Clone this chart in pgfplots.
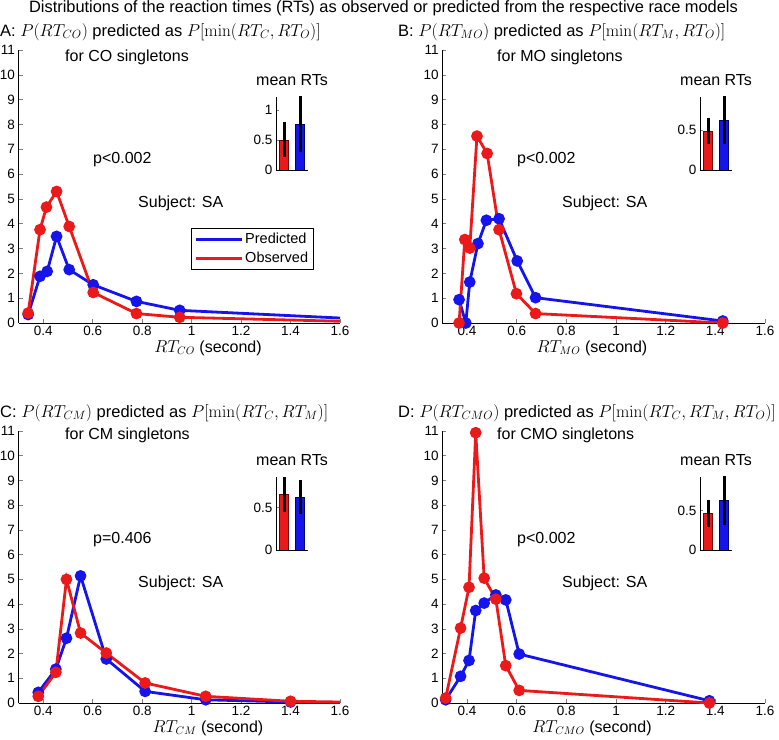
\documentclass[border=0pt]{standalone}
\usepackage{pgfplots}
\pgfplotsset{compat=1.18}
\usepackage[no-math]{fontspec}
\setmainfont{Liberation Sans}
\definecolor{pblue}{RGB}{20,20,235}
\definecolor{pred}{RGB}{235,25,25}
\pgfplotsset{
 mainax/.style={scale only axis, width=321.5pt, height=273pt, xmin=0.3, xmax=1.6, ymin=0, ymax=11,
  axis x line*=bottom, axis y line*=left, axis line style={-, line width=0.6pt}, tick align=inside,
  xtick={0.4,0.6,0.8,1,1.2,1.4,1.6}, ytick={0,1,2,3,4,5,6,7,8,9,10,11},
  tick label style={font=\fontsize{13.5}{15}\selectfont}, /pgf/number format/assume math mode=true,
  major tick length=4pt, anchor=south west, tick style={line width=0.6pt}},
 bl/.style={color=pblue, line width=2.8pt, mark=*, mark size=4.4pt, mark options={solid}},
 rd/.style={color=pred, line width=2.8pt, mark=*, mark size=4.4pt, mark options={solid}},
 insetax/.style={scale only axis, width=32pt, height=73pt, xmin=0.5, xmax=2.5, ymin=0,
  axis x line*=bottom, axis y line*=left, axis line style={-, line width=0.6pt}, xtick=\empty, tick align=inside,
  tick label style={font=\fontsize{13.5}{15}\selectfont}, /pgf/number format/assume math mode=true,
  major tick length=3pt, anchor=south west, tick style={line width=0.6pt}},
 ebar/.style={ybar, bar width=8.8pt, bar shift=0pt, line width=0.6pt,
  error bars/y dir=both, error bars/y explicit, error bars/error mark=none, error bars/error bar style={line width=3pt, black}},
}
\begin{document}
\begin{tikzpicture}
\path[use as bounding box] (0pt,0pt) rectangle (779pt,739pt);
\node[font=\fontsize{16.4}{18}\selectfont] at (383.5pt,730.5pt) {Distributions of the reaction times (RTs) as observed or predicted from the respective race models};
% ---------- A
\begin{axis}[mainax, at={(18.5pt,416pt)},
  legend style={at={(axis description cs:0.537,0.348)}, anchor=north west, font=\fontsize{14.5}{16}\selectfont, draw=black, line width=0.6pt, inner sep=3pt, row sep=3pt},
  legend image code/.code={\draw[#1, mark=none, line width=2.8pt] (0pt,0pt) -- (46pt,0pt);},
  legend cell align=left]
\addplot[bl, mark indices={1,2,3,4,5,6,7,8}] coordinates {(0.339,0.34) (0.387,1.88) (0.416,2.08) (0.454,3.49) (0.505,2.15) (0.602,1.54) (0.777,0.87) (0.952,0.51) (1.6,0.2)};
\addlegendentry{Predicted}
\addplot[rd, mark indices={1,2,3,4,5,6,7,8}] coordinates {(0.339,0.40) (0.387,3.76) (0.413,4.67) (0.454,5.30) (0.505,3.89) (0.602,1.23) (0.777,0.38) (0.952,0.23) (1.6,0.07)};
\addlegendentry{Observed}
\end{axis}
\begin{axis}[insetax, at={(276pt,569pt)}, ymax=1.22, ytick={0,0.5,1}]
\addplot[fill=pred, draw=black!55!red, ebar] coordinates {(1,0.50) += (0,0.30) -= (0,0.28)};
\addplot[fill=pblue, draw=black!55!blue, ebar] coordinates {(2,0.77) += (0,0.47) -= (0,0.47)};
\end{axis}
% ---------- B
\begin{axis}[mainax, at={(442.2pt,416pt)}, width=322.8pt]
\addplot[bl] coordinates {(0.368,0.94) (0.395,0.0) (0.411,1.65) (0.444,3.20) (0.478,4.14) (0.529,4.20) (0.602,2.50) (0.676,1.02) (1.43,0.08)};
\addplot[rd] coordinates {(0.368,0.0) (0.391,3.36) (0.411,3.02) (0.440,7.53) (0.481,6.83) (0.529,3.76) (0.599,1.18) (0.676,0.38) (1.43,0.0)};
\end{axis}
\begin{axis}[insetax, at={(700pt,569pt)}, ymax=0.92, ytick={0,0.5}]
\addplot[fill=pred, draw=black!55!red, ebar] coordinates {(1,0.49) += (0,0.17) -= (0,0.16)};
\addplot[fill=pblue, draw=black!55!blue, ebar] coordinates {(2,0.63) += (0,0.30) -= (0,0.30)};
\end{axis}
% ---------- C
\begin{axis}[mainax, at={(18.5pt,36pt)}, height=272pt]
\addplot[bl, mark indices={1,2,3,4,5,6,7,8}] coordinates {(0.38,0.43) (0.451,1.37) (0.494,2.62) (0.551,5.14) (0.655,1.78) (0.812,0.47) (1.057,0.13) (1.40,0.04) (1.6,0.0)};
\addplot[rd, mark indices={1,2,3,4,5,6,7,8}] coordinates {(0.38,0.27) (0.451,1.24) (0.494,5.00) (0.551,2.83) (0.655,2.02) (0.812,0.81) (1.057,0.27) (1.40,0.07) (1.6,0.04)};
\end{axis}
\begin{axis}[insetax, at={(276pt,189pt)}, ymax=0.86, ytick={0,0.5}]
\addplot[fill=pred, draw=black!55!red, ebar] coordinates {(1,0.66) += (0,0.20) -= (0,0.21)};
\addplot[fill=pblue, draw=black!55!blue, ebar] coordinates {(2,0.625) += (0,0.20) -= (0,0.20)};
\end{axis}
% ---------- D
\begin{axis}[mainax, at={(442.2pt,36pt)}, width=322.8pt, height=272pt]
\addplot[bl] coordinates {(0.314,0.13) (0.374,1.08) (0.408,1.72) (0.435,3.74) (0.469,4.04) (0.516,4.37) (0.556,4.17) (0.610,1.98) (1.376,0.09)};
\addplot[rd] coordinates {(0.314,0.2) (0.374,3.03) (0.408,4.68) (0.435,10.93) (0.469,5.05) (0.516,4.20) (0.556,1.51) (0.610,0.51) (1.376,0.0)};
\end{axis}
\begin{axis}[insetax, at={(700pt,189pt)}, ymax=0.93, ytick={0,0.5}]
\addplot[fill=pred, draw=black!55!red, ebar] coordinates {(1,0.467) += (0,0.17) -= (0,0.18)};
\addplot[fill=pblue, draw=black!55!blue, ebar] coordinates {(2,0.63) += (0,0.31) -= (0,0.31)};
\end{axis}
% ---------- texts
\begin{scope}[every node/.style={font=\fontsize{16.5}{18}\selectfont, anchor=west, inner sep=0pt}]
\node at (0pt,707pt) {A: $P(RT_{CO})$ predicted as $P[\min(RT_C,RT_O)]$};
\node at (398pt,707pt) {B: $P(RT_{MO})$ predicted as $P[\min(RT_M,RT_O)]$};
\node at (0pt,326pt) {C: $P(RT_{CM})$ predicted as $P[\min(RT_C,RT_M)]$};
\node at (398pt,326pt) {D: $P(RT_{CMO})$ predicted as $P[\min(RT_C,RT_M,RT_O)]$};
\end{scope}
\begin{scope}[every node/.style={font=\fontsize{16}{18}\selectfont, anchor=west, inner sep=0pt}]
\node at (65pt,682pt) {for CO singletons};
\node at (497pt,682pt) {for MO singletons};
\node at (65pt,304pt) {for CM singletons};
\node at (497pt,304pt) {for CMO singletons};
\node at (256pt,659pt) {mean RTs};
\node at (680pt,659pt) {mean RTs};
\node at (256pt,279pt) {mean RTs};
\node at (680pt,279pt) {mean RTs};
\node at (93pt,579pt) {p<0.002};
\node at (517pt,579pt) {p<0.002};
\node at (93pt,199pt) {p=0.406};
\node at (517pt,199pt) {p<0.002};
\node at (138pt,536pt) {Subject: SA};
\node at (562pt,536pt) {Subject: SA};
\node at (138pt,156pt) {Subject: SA};
\node at (562pt,156pt) {Subject: SA};
\end{scope}
\begin{scope}[every node/.style={font=\fontsize{16}{18}\selectfont, inner sep=0pt}]
\node at (208pt,391pt) {$RT_{CO}$ (second)};
\node at (592pt,391pt) {$RT_{MO}$ (second)};
\node at (208pt,11pt) {$RT_{CM}$ (second)};
\node at (592pt,11pt) {$RT_{CMO}$ (second)};
\end{scope}
\end{tikzpicture}
\end{document}
